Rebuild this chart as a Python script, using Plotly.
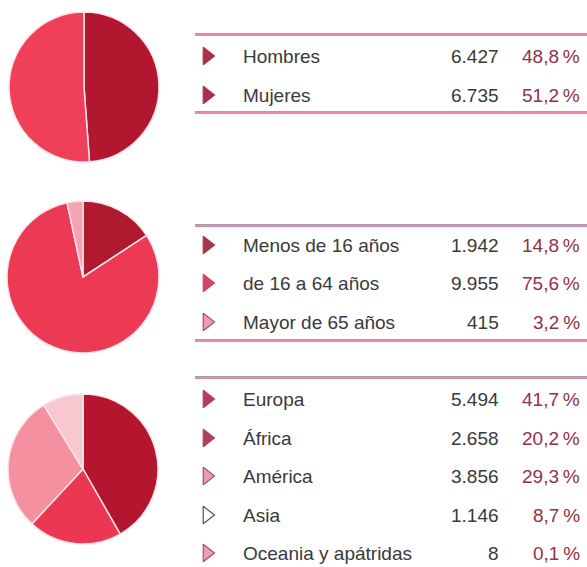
import plotly.graph_objects as go

# ---------------- data ----------------
sexo_labels = ["Hombres", "Mujeres"]
sexo_values = [6427, 6735]
sexo_pct = ["48,8", "51,2"]

edad_labels = ["Menos de 16 años", "de 16 a 64 años", "Mayor de 65 años"]
edad_values = [1942, 9955, 415]
edad_pct = ["14,8", "75,6", "3,2"]

region_labels = ["Europa", "África", "América", "Asia", "Oceania y apátridas"]
region_values = [5494, 2658, 3856, 1146, 8]
region_pct = ["41,7", "20,2", "29,3", "8,7", "0,1"]

# ---------------- style ----------------
W, H = 587, 567
FONT = "Liberation Sans, Arial, Helvetica, sans-serif"
TXT = "#3a3a3a"
PCT = "#93304a"

sexo_colors = ["#b3172f", "#ef3f59"]
edad_colors = ["#b01a2f", "#ec3a55", "#f4a3b2"]
region_colors = ["#b3162e", "#ec3753", "#f4909f", "#f7c8d0", "#f9d8de"]

sexo_icons = [("#a8324a", "#a8324a"), ("#a8324a", "#a8324a")]
edad_icons = [("#a23a4f", "#a23a4f"), ("#cc4a66", "#cc4a66"), ("#e8a0b0", "#b04a60")]
region_icons = [("#b0405a", "#b0405a"), ("#b0405a", "#b0405a"), ("#e8a0b0", "#b04a60"),
                ("#ffffff", "#555555"), ("#e8a0b0", "#b04a60")]

def fmt(v):
    return f"{v:,}".replace(",", ".")

# section geometry (pixels, top-left origin)
sections = [
    dict(labels=sexo_labels, values=sexo_values, pct=sexo_pct, colors=sexo_colors, icons=sexo_icons,
         pie=(84, 87, 75), rows=[56, 95], lines=[35, 113]),
    dict(labels=edad_labels, values=edad_values, pct=edad_pct, colors=edad_colors, icons=edad_icons,
         pie=(83, 277, 76), rows=[245, 283, 322], lines=[226, 341]),
    dict(labels=region_labels, values=region_values, pct=region_pct, colors=region_colors, icons=region_icons,
         pie=(83, 469, 75), rows=[399, 438, 476, 515, 553], lines=[378, None]),
]

fig = go.Figure()
shapes = []
annotations = []

for s in sections:
    cx, cy, r = s["pie"]
    fig.add_trace(go.Pie(
        labels=s["labels"], values=s["values"], sort=False, direction="clockwise", rotation=0,
        textinfo="none", hoverinfo="label+value+percent", showlegend=False,
        marker=dict(colors=s["colors"], line=dict(color="#fbe3e7", width=1.5)),
        domain=dict(x=[(cx - r) / W, (cx + r) / W], y=[1 - (cy + r) / H, 1 - (cy - r) / H]),
    ))
    # table rules
    for ly in s["lines"]:
        if ly is None:
            continue
        shapes.append(dict(type="line", xref="x", yref="y", x0=195, x1=587, y0=ly - 1.5, y1=ly - 1.5,
                           line=dict(color="#9aa3b5", width=1)))
        shapes.append(dict(type="line", xref="x", yref="y", x0=195, x1=587, y0=ly, y1=ly,
                           line=dict(color="#e98a9e", width=2)))
    # icons
    fig.add_trace(go.Scatter(
        x=[207] * len(s["rows"]), y=s["rows"], mode="markers", showlegend=False, hoverinfo="skip",
        marker=dict(symbol="triangle-right", size=15,
                    color=[c[0] for c in s["icons"]],
                    line=dict(color=[c[1] for c in s["icons"]], width=1.2)),
        xaxis="x", yaxis="y",
    ))
    for lab, val, pct, yy in zip(s["labels"], s["values"], s["pct"], s["rows"]):
        annotations.append(dict(x=241, y=yy, xref="x", yref="y", text=lab, showarrow=False,
                                xanchor="left", yanchor="middle", font=dict(size=19, color=TXT, family=FONT)))
        annotations.append(dict(x=501, y=yy, xref="x", yref="y", text=fmt(val), showarrow=False,
                                xanchor="right", yanchor="middle", font=dict(size=19, color=TXT, family=FONT)))
        annotations.append(dict(x=582, y=yy, xref="x", yref="y", text=pct + "\u2009%", showarrow=False,
                                xanchor="right", yanchor="middle", font=dict(size=19, color=PCT, family=FONT)))

fig.update_layout(
    width=W, height=H, margin=dict(l=0, r=0, t=0, b=0),
    paper_bgcolor="white", plot_bgcolor="rgba(0,0,0,0)",
    xaxis=dict(range=[0, W], visible=False, fixedrange=True, domain=[0, 1]),
    yaxis=dict(range=[H, 0], visible=False, fixedrange=True, domain=[0, 1]),
    shapes=shapes, annotations=annotations,
)

fig.write_html("out.html", config={"displayModeBar": False},
               post_script="document.body.style.margin='0';document.body.style.overflow='hidden';")
